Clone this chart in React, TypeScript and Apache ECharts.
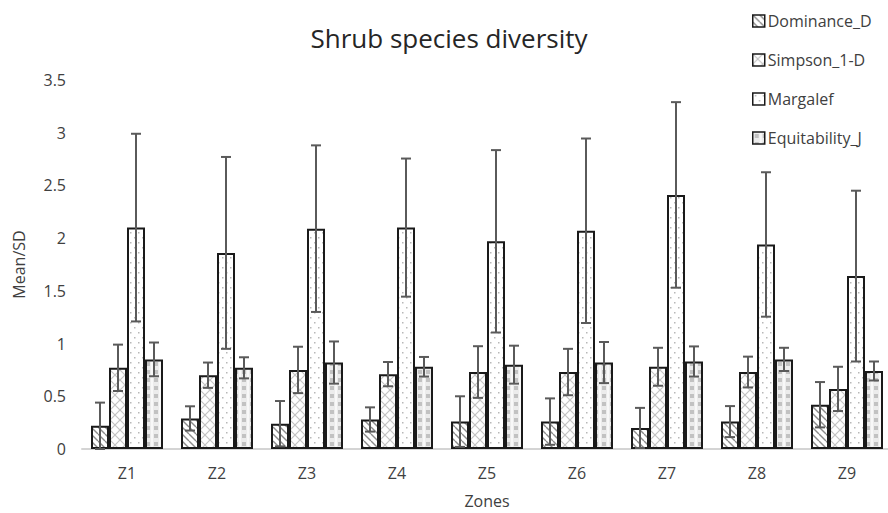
import React, { useEffect, useRef } from "react";
import * as echarts from "echarts";

const categories = ["Z1", "Z2", "Z3", "Z4", "Z5", "Z6", "Z7", "Z8", "Z9"];
const seriesNames = ["Dominance_D", "Simpson_1-D", "Margalef", "Equitability_J"];
const dominance = [0.22, 0.29, 0.24, 0.28, 0.26, 0.26, 0.2, 0.26, 0.42];
const dominanceSD = [0.22, 0.115, 0.215, 0.115, 0.24, 0.22, 0.19, 0.147, 0.215];
const simpson = [0.77, 0.7, 0.75, 0.71, 0.73, 0.73, 0.78, 0.73, 0.57];
const simpsonSD = [0.22, 0.12, 0.22, 0.115, 0.245, 0.22, 0.18, 0.146, 0.21];
const margalef = [2.1, 1.86, 2.09, 2.1, 1.97, 2.07, 2.41, 1.94, 1.64];
const margalefSD = [0.89, 0.91, 0.79, 0.655, 0.865, 0.875, 0.88, 0.685, 0.81];
const equitability = [0.85, 0.77, 0.82, 0.78, 0.8, 0.82, 0.83, 0.85, 0.74];
const equitabilitySD = [0.16, 0.1, 0.2, 0.093, 0.18, 0.195, 0.143, 0.11, 0.09];
const yTicks = { min: 0, max: 3.5, interval: 0.5 };

const FONT = "'Open Sans', Lato, sans-serif";

function makeCanvas(w: number, h: number, draw: (ctx: CanvasRenderingContext2D) => void) {
  const c = document.createElement("canvas");
  c.width = w;
  c.height = h;
  const ctx = c.getContext("2d")!;
  draw(ctx);
  return c;
}

function patterns() {
  const diag = makeCanvas(7, 7, (ctx) => {
    ctx.fillStyle = "#ffffff";
    ctx.fillRect(0, 0, 7, 7);
    ctx.strokeStyle = "#8c8c8c";
    ctx.lineWidth = 1.4;
    for (const o of [-7, 0, 7]) {
      ctx.beginPath();
      ctx.moveTo(o, 0);
      ctx.lineTo(o + 7, 7);
      ctx.stroke();
    }
  });
  const lattice = makeCanvas(10, 10, (ctx) => {
    ctx.fillStyle = "#ffffff";
    ctx.fillRect(0, 0, 10, 10);
    ctx.strokeStyle = "#c4c4c4";
    ctx.lineWidth = 1.2;
    for (const o of [-10, 0, 10]) {
      ctx.beginPath();
      ctx.moveTo(o, 0);
      ctx.lineTo(o + 10, 10);
      ctx.stroke();
      ctx.beginPath();
      ctx.moveTo(o + 10, 0);
      ctx.lineTo(o, 10);
      ctx.stroke();
    }
  });
  const dots = makeCanvas(8, 10, (ctx) => {
    ctx.fillStyle = "#ffffff";
    ctx.fillRect(0, 0, 8, 10);
    ctx.fillStyle = "#b8b8b8";
    ctx.fillRect(2, 2, 1.5, 1.5);
    ctx.fillRect(6, 7, 1.5, 1.5);
  });
  const checker = makeCanvas(8, 8, (ctx) => {
    ctx.fillStyle = "#ececec";
    ctx.fillRect(0, 0, 8, 8);
    ctx.fillStyle = "#c2c2c2";
    ctx.fillRect(2, 2, 4, 4);
    ctx.fillStyle = "#f8f8f8";
    ctx.fillRect(0, 0, 1, 8);
    ctx.fillRect(7, 0, 1, 8);
  });
  return [diag, lattice, dots, checker].map((c) => ({
    image: c,
    repeat: "repeat",
    imageWidth: c.width,
    imageHeight: c.height,
  }));
}

export default function App() {
  const ref = useRef<HTMLDivElement>(null);
  useEffect(() => {
    if (!ref.current) return;
    const chart = echarts.init(ref.current, null, { renderer: "svg" });
    const fills = patterns();
    const means = [dominance, simpson, margalef, equitability];
    const sds = [dominanceSD, simpsonSD, margalefSD, equitabilitySD];

    const barSeries = seriesNames.map((name, k) => ({
      name,
      type: "bar",
      data: means[k],
      barGap: "0%",
      barCategoryGap: "20%",
      itemStyle: { color: fills[k], borderColor: "#1a1a1a", borderWidth: 2 },
    }));

    const errSeries = seriesNames.map((_, k) => ({
      type: "custom",
      silent: true,
      z: 5,
      data: means[k].map((m, i) => [i, m, sds[k][i]]),
      renderItem: (params: any, api: any) => {
        const x = api.value(0);
        const m = api.value(1);
        const sd = api.value(2);
        const c = api.coord([x, m]);
        const bandW = api.size([1, 0])[0];
        const barW = (bandW * 0.8) / 4;
        const cx = c[0] + (k - 1.5) * barW;
        const top = api.coord([x, m + sd])[1];
        const bot = api.coord([x, Math.max(0, m - sd)])[1];
        const half = 5;
        const style = { stroke: "#5a5a5a", lineWidth: 2, fill: null };
        return {
          type: "group",
          children: [
            { type: "line", shape: { x1: cx, y1: top, x2: cx, y2: bot }, style },
            { type: "line", shape: { x1: cx - half, y1: top, x2: cx + half, y2: top }, style },
            { type: "line", shape: { x1: cx - half, y1: bot, x2: cx + half, y2: bot }, style },
          ],
        };
      },
    }));

    chart.setOption({
      animation: false,
      backgroundColor: "#ffffff",
      title: {
        text: "Shrub species diversity",
        left: 444,
        top: 20,
        textAlign: "center",
        textStyle: { fontFamily: FONT, fontSize: 26, fontWeight: "normal", color: "#262626" },
      },
      legend: {
        data: seriesNames,
        orient: "vertical",
        left: 747,
        top: 6,
        icon: "rect",
        itemWidth: 12,
        itemHeight: 12,
        itemGap: 19,
        itemStyle: { borderWidth: 1.5, borderColor: "#1a1a1a" },
        textStyle: { fontFamily: FONT, fontSize: 16, color: "#404040", lineHeight: 20, padding: [0, 0, 0, -2] },
      },
      grid: { left: 82, top: 80, width: 810, height: 369, containLabel: false, outerBoundsMode: "none" },
      xAxis: {
        type: "category",
        data: categories,
        name: "Zones",
        nameLocation: "middle",
        nameGap: 44,
        nameTextStyle: { fontFamily: FONT, fontSize: 16, color: "#404040" },
        axisLine: { lineStyle: { color: "#d4d4d4", width: 2 } },
        axisTick: { show: false },
        axisLabel: { fontFamily: FONT, fontSize: 16, color: "#404040", margin: 16 },
      },
      yAxis: {
        type: "value",
        min: yTicks.min,
        max: yTicks.max,
        interval: yTicks.interval,
        name: "Mean/SD",
        nameLocation: "middle",
        nameGap: 55,
        nameTextStyle: { fontFamily: FONT, fontSize: 16, color: "#404040" },
        axisLine: { show: false },
        axisTick: { show: false },
        splitLine: { show: false },
        axisLabel: { fontFamily: FONT, fontSize: 16, color: "#404040", margin: 16 },
      },
      series: [...barSeries, ...errSeries],
    });
    return () => chart.dispose();
  }, []);
  return (
    <div
      ref={ref}
      style={{ position: "fixed", left: 0, top: 0, width: 888, height: 513 }}
    />
  );
}
